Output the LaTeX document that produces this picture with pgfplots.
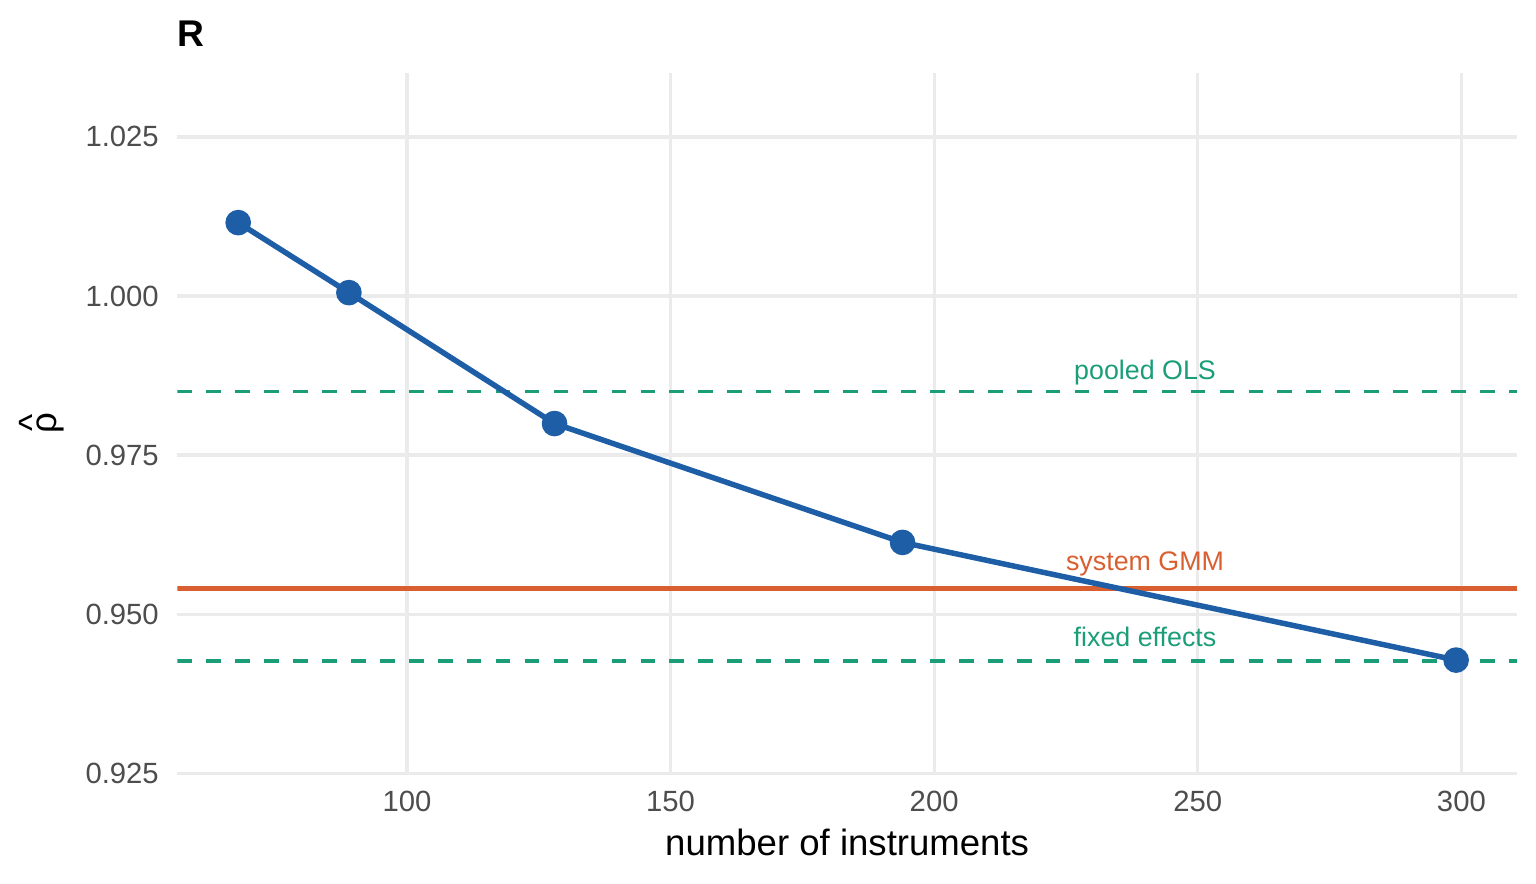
\documentclass[border=0pt]{standalone}
\usepackage{pgfplots}
\pgfplotsset{compat=1.18}
\usepackage{fontspec}
\setmainfont{Liberation Sans}
\definecolor{myblue}{HTML}{1D5EA6}
\definecolor{mygreen}{HTML}{1B9E77}
\definecolor{myorange}{HTML}{D95F30}
\definecolor{gridgray}{HTML}{EBEBEB}
\definecolor{ticktext}{HTML}{4D4D4D}
\newcommand{\rhohat}{\makebox[0pt][l]{\makebox[0.578em][c]{\raisebox{0.32em}{\textasciicircum}}}ρ}

\begin{document}
\begin{tikzpicture}
\useasboundingbox (-58.18pt,-36.0pt) rectangle (445.83pt,253.74pt);
\begin{axis}[
  at={(0,0)}, anchor=south west,
  scale only axis, width=439.6pt, height=229.7pt,
  xmin=56.45, xmax=310.55, ymin=0.925, ymax=1.035,
  clip mode=individual,
  axis line style={draw=none},
  major tick length=0pt,
  tick style={draw=none},
  xtick={100,150,200,250,300},
  ytick={0.925,0.95,0.975,1,1.025},
  grid=major,
  major grid style={gridgray, line width=1.07pt},
  tick label style={font=\fontsize{9.6}{11}\selectfont, text=ticktext},
  /pgf/number format/assume math mode=true,
  yticklabel style={/pgf/number format/fixed, /pgf/number format/fixed zerofill, /pgf/number format/precision=3, anchor=east, inner sep=0pt, xshift=-5.9pt},
  xticklabel style={anchor=north, inner sep=0pt, yshift=-5.5pt},
  xlabel={number of instruments},
  xlabel style={at={(axis description cs:0.5,0)}, anchor=base, yshift=-26.9pt, inner sep=0pt, font=\fontsize{12}{14}\selectfont},
  ylabel={\rhohat},
  ylabel style={at={(axis description cs:-0.101,0.5)}, anchor=center, inner sep=0pt, font=\fontsize{12}{14}\selectfont},
  line join=round,
]
\addplot[mygreen, line width=1.1pt, dash pattern=on 4.8pt off 4.7pt] coordinates {(56.45,0.98503) (310.55,0.98503)};
\addplot[mygreen, line width=1.1pt, dash pattern=on 4.8pt off 4.7pt] coordinates {(56.45,0.94263) (310.55,0.94263)};
\addplot[myorange, line width=1.5pt] coordinates {(56.45,0.95405) (310.55,0.95405)};
\addplot[myblue, line width=1.8pt, mark=*, mark size=3.3pt, mark options={solid, draw=none, fill=myblue}] coordinates {(68,1.01153) (89,1.00053) (128,0.97996) (194,0.96128) (299,0.94279)};
\node[anchor=base, text=mygreen, font=\fontsize{8.8}{10}\selectfont, inner sep=0pt] at (axis cs:240,0.98692) {pooled OLS};
\node[anchor=base, text=myorange, font=\fontsize{8.8}{10}\selectfont, inner sep=0pt] at (axis cs:240,0.95693) {system GMM};
\node[anchor=base, text=mygreen, font=\fontsize{8.8}{10}\selectfont, inner sep=0pt] at (axis cs:240,0.94499) {fixed effects};
\node[anchor=base west, font=\bfseries\fontsize{12.2}{14}\selectfont, inner sep=0pt, yshift=8.73pt] at (rel axis cs:0,1) {R};
\end{axis}
\end{tikzpicture}
\end{document}
